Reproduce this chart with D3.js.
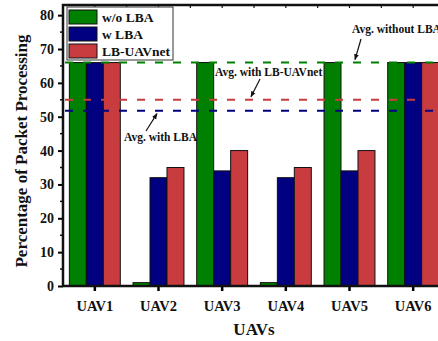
<!DOCTYPE html>
<html>
<head>
<meta charset="utf-8">
<script src="https://cdn.jsdelivr.net/npm/d3@7"></script>
<style>
  body { margin: 0; background: #fff; overflow: hidden; }
  svg { display: block; font-family: "Liberation Serif", "Times New Roman", serif; font-weight: bold; }
</style>
</head>
<body>
<script>
const categories = ['UAV1', 'UAV2', 'UAV3', 'UAV4', 'UAV5', 'UAV6']
const seriesNames = ['w/o LBA', 'w LBA', 'LB-UAVnet']
const woLBA = [66, 1, 66, 1, 66, 66]
const wLBA = [66, 32, 34, 32, 34, 66]
const lbUAVnet = [66, 35, 40, 35, 40, 66]
const averages = [66, 51.8, 55]   // w/o LBA, w LBA, LB-UAVnet
const yTicks = [0, 10, 20, 30, 40, 50, 60, 70, 80]
const colors = ['#008000', '#000080', '#c83c3f']

const w = 438, h = 341
const pLeft = 63, pRight = 445, pTop = 5, pBottom = 286
const serif = '"Liberation Serif", "Times New Roman", serif'

const svg = d3.select('body').append('svg')
    .attr('width', w)
    .attr('height', h)

const x = d3.scaleBand()
    .domain(categories)
    .range([pLeft, pRight])
    .paddingInner(0.2)
    .paddingOuter(0.1)

const xSub = d3.scaleBand()
    .domain(seriesNames)
    .range([0, x.bandwidth()])

const y = d3.scaleLinear()
    .domain([0, 83])
    .range([pBottom, pTop])

const values = [woLBA, wLBA, lbUAVnet]
const rows = []
categories.forEach((c, i) => {
    seriesNames.forEach((s, j) => rows.push({ cat: c, series: s, value: values[j][i], color: colors[j] }))
})

// bars
svg.append('g').selectAll('rect')
    .data(rows)
    .enter()
    .append('rect')
    .attr('x', d => x(d.cat) + xSub(d.series))
    .attr('y', d => y(d.value))
    .attr('width', xSub.bandwidth())
    .attr('height', d => y(0) - y(d.value))
    .attr('fill', d => d.color)
    .attr('stroke', '#111')
    .attr('stroke-width', 1)

// average lines
svg.append('g').selectAll('line')
    .data(averages)
    .enter()
    .append('line')
    .attr('x1', pLeft + 2)
    .attr('x2', w)
    .attr('y1', d => y(d))
    .attr('y2', d => y(d))
    .attr('stroke', (d, i) => colors[i])
    .attr('stroke-width', 2)
    .attr('stroke-dasharray', '8,10')

// left axis
const yAxis = svg.append('g')
    .attr('transform', `translate(${pLeft},0)`)
    .call(d3.axisLeft(y).tickValues(yTicks).tickSize(5).tickPadding(4))
    .attr('font-family', serif)
    .attr('font-size', 14)
yAxis.select('.domain').remove()
yAxis.selectAll('.tick line').attr('stroke-width', 2)
yAxis.selectAll('text').attr('fill', '#111')
svg.append('g').selectAll('line')
    .data(d3.range(5, 83, 10))
    .enter()
    .append('line')
    .attr('x1', pLeft - 3).attr('x2', pLeft)
    .attr('y1', d => y(d)).attr('y2', d => y(d))
    .attr('stroke', '#111').attr('stroke-width', 1.5)

// bottom axis
const xAxis = svg.append('g')
    .attr('transform', `translate(0,${pBottom})`)
    .call(d3.axisBottom(x).tickSize(5).tickPadding(10))
    .attr('font-family', serif)
    .attr('font-size', 14.5)
xAxis.select('.domain').remove()
xAxis.selectAll('.tick line').attr('stroke-width', 2.5)
xAxis.selectAll('text').attr('fill', '#111')

// top axis ticks
svg.append('g').selectAll('line')
    .data(d3.range(categories.length * 2))
    .enter()
    .append('line')
    .attr('x1', d => pLeft + x.step() * (d / 2 + 0.5))
    .attr('x2', d => pLeft + x.step() * (d / 2 + 0.5))
    .attr('y1', pTop).attr('y2', pTop + 3)
    .attr('stroke', '#111').attr('stroke-width', 1.2)

// frame
svg.append('path')
    .attr('d', `M${w + 5},${pTop}H${pLeft}V${pBottom}H${w + 5}`)
    .attr('fill', 'none')
    .attr('stroke', '#111')
    .attr('stroke-width', 2.5)

// axis titles
svg.append('text')
    .attr('transform', 'translate(27,151) rotate(-90)')
    .attr('text-anchor', 'middle')
    .style('font-size', '17px')
    .attr('fill', '#111')
    .text('Percentage of Packet Processing')

svg.append('text')
    .attr('x', (pLeft + pRight) / 2)
    .attr('y', 335)
    .attr('text-anchor', 'middle')
    .style('font-size', '17px')
    .attr('fill', '#111')
    .text('UAVs')

// legend
const legend = svg.append('g').attr('transform', 'translate(67,7)')
legend.append('rect')
    .attr('width', 106).attr('height', 53)
    .attr('fill', '#fff').attr('stroke', '#333').attr('stroke-width', 1)
const items = legend.selectAll('.item')
    .data(seriesNames)
    .enter()
    .append('g')
    .attr('class', 'item')
    .attr('transform', (d, i) => `translate(2,${3 + i * 17})`)
items.append('rect')
    .attr('width', 28).attr('height', 14)
    .attr('fill', (d, i) => colors[i])
    .attr('stroke', '#111')
items.append('text')
    .attr('x', 33).attr('y', 12)
    .style('font-size', '13.5px')
    .attr('fill', '#111')
    .text(d => d)

// annotations
svg.append('defs').append('marker')
    .attr('id', 'arrow')
    .attr('viewBox', '0 0 10 10')
    .attr('refX', 9).attr('refY', 5)
    .attr('markerWidth', 5).attr('markerHeight', 5)
    .attr('orient', 'auto')
    .append('path')
    .attr('d', 'M0,1L10,5L0,9Z')
    .attr('fill', '#111')

const notes = [
    { text: 'Avg. without LBA', tx: 352, ty: 33, x1: 361, y1: 39, x2: 355, avg: averages[0] },
    { text: 'Avg. with LB-UAVnet', tx: 215, ty: 76, x1: 260, y1: 79, x2: 251, avg: averages[2] },
    { text: 'Avg. with LBA', tx: 124, ty: 141, x1: 146, y1: 131, x2: 157, avg: averages[1] }
]
svg.append('g').selectAll('text')
    .data(notes)
    .enter()
    .append('text')
    .attr('x', d => d.tx).attr('y', d => d.ty)
    .style('font-size', '11.5px')
    .attr('fill', '#111')
    .text(d => d.text)
svg.append('g').selectAll('line')
    .data(notes)
    .enter()
    .append('line')
    .attr('x1', d => d.x1).attr('y1', d => d.y1)
    .attr('x2', d => d.x2).attr('y2', d => y(d.avg) + (d.y1 < y(d.avg) ? -3 : 3))
    .attr('stroke', '#111').attr('stroke-width', 1.2)
    .attr('marker-end', 'url(#arrow)')
</script>
</body>
</html>
